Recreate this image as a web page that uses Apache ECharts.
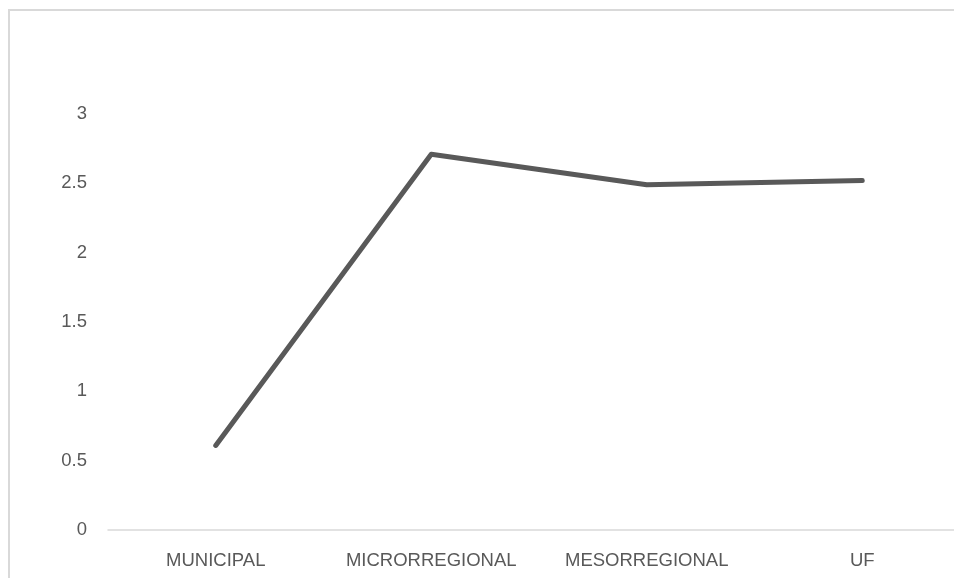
<!DOCTYPE html>
<html>
<head>
<meta charset="utf-8">
<script src="https://cdn.jsdelivr.net/npm/echarts@6/dist/echarts.min.js"></script>
<style>
  html, body { margin: 0; padding: 0; background: #ffffff; }
  #chart { width: 954px; height: 578px; }
</style>
</head>
<body>
<div id="chart"></div>
<script>
// Territorial levels and their index values
const categories = ['MUNICIPAL', 'MICRORREGIONAL', 'MESORREGIONAL', 'UF'];
const values = [0.61, 2.71, 2.49, 2.52];
const yTicks = { min: 0, max: 3, interval: 0.5 };

const labelFont = '"Liberation Sans", sans-serif';

const chart = echarts.init(document.getElementById('chart'), null, { renderer: 'canvas' });

chart.setOption({
  backgroundColor: '#ffffff',
  animation: false,
  graphic: [{
    type: 'rect',
    silent: true,
    shape: { x: 9, y: 10, width: 1000, height: 620 },
    style: { fill: 'none', stroke: '#d9d9d9', lineWidth: 2 }
  }],
  grid: {
    left: 108, top: 114, right: -16, bottom: 48,
    containLabel: false,
    outerBoundsMode: 'none'
  },
  xAxis: {
    type: 'category',
    data: categories,
    boundaryGap: true,
    axisLine: { show: true, lineStyle: { color: '#d9d9d9', width: 1.5 } },
    axisTick: { show: false },
    axisLabel: {
      color: '#595959',
      fontFamily: labelFont,
      fontSize: 18.5,
      margin: 21,
      interval: 0
    },
    splitLine: { show: false }
  },
  yAxis: {
    type: 'value',
    min: yTicks.min,
    max: yTicks.max,
    interval: yTicks.interval,
    axisLine: { show: false },
    axisTick: { show: false },
    splitLine: { show: false },
    axisLabel: {
      color: '#595959',
      fontFamily: labelFont,
      fontSize: 18.5,
      margin: 21
    }
  },
  series: [{
    type: 'line',
    data: values,
    symbol: 'none',
    smooth: false,
    lineStyle: { color: '#595959', width: 5, cap: 'round', join: 'round' }
  }]
});
</script>
</body>
</html>
